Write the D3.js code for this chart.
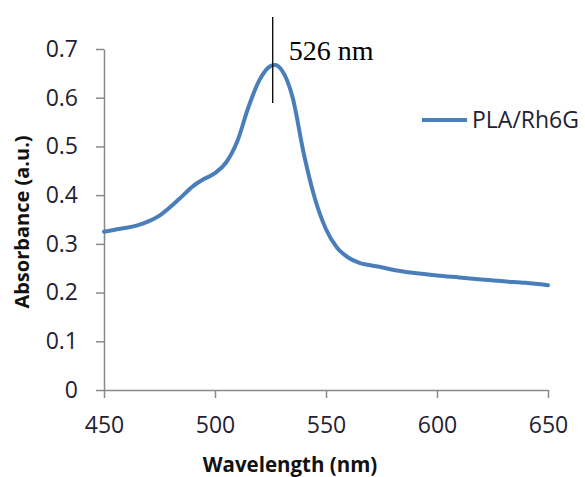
<!DOCTYPE html>
<html>
<head>
<meta charset="utf-8">
<script src="https://cdn.jsdelivr.net/npm/d3@7"></script>
<style>
  body { margin: 0; background: #fff; }
  svg { display: block; }
</style>
</head>
<body>
<svg width="585" height="477"></svg>
<script>
// wavelength (nm) and absorbance
var wavelengths = [450, 455, 460, 465, 470, 475, 480, 485, 490, 495, 500, 505, 510, 515, 520, 525, 527, 530, 535, 540, 545, 550, 555, 560, 565, 570, 575, 580, 590, 600, 610, 620, 630, 640, 650];
var absorbance  = [0.325, 0.329, 0.333, 0.338, 0.346, 0.358, 0.376, 0.397, 0.418, 0.433, 0.445, 0.467, 0.510, 0.580, 0.636, 0.665, 0.667, 0.657, 0.600, 0.485, 0.393, 0.330, 0.292, 0.272, 0.261, 0.256, 0.252, 0.247, 0.240, 0.235, 0.231, 0.227, 0.223, 0.220, 0.215];
var xTicks = [450, 500, 550, 600, 650];
var yTicks = [0, 0.1, 0.2, 0.3, 0.4, 0.5, 0.6, 0.7];
var seriesName = "PLA/Rh6G";
var peakWavelength = 526;
var peakLabel = "526 nm";

var svg = d3.select("svg"),
    margin = {top: 49, right: 37, bottom: 87, left: 104},
    width = +svg.attr("width") - margin.left - margin.right,
    height = +svg.attr("height") - margin.top - margin.bottom,
    g = svg.append("g").attr("transform", "translate(" + margin.left + "," + margin.top + ")");

var font = "'Open Sans', sans-serif",
    textColor = "#1f2233",
    axisColor = "#898989";

var x = d3.scaleLinear().domain([450, 650]).range([0, width]);
var y = d3.scaleLinear().domain([0, 0.7]).range([height, 0]);

var data = wavelengths.map(function(w, i) { return {w: w, a: absorbance[i]}; });

var line = d3.line()
    .x(function(d) { return x(d.w); })
    .y(function(d) { return y(d.a); })
    .curve(d3.curveMonotoneX);

// axes
var xAxis = g.append("g")
    .attr("transform", "translate(0," + height + ")")
    .call(d3.axisBottom(x).tickValues(xTicks).tickFormat(d3.format("d")).tickSizeInner(8).tickSizeOuter(0).tickPadding(19));

var yAxis = g.append("g")
    .call(d3.axisLeft(y).tickValues(yTicks).tickFormat(function(d) { return d === 0 ? "0" : d3.format(".1f")(d); }).tickSizeInner(8).tickSizeOuter(0).tickPadding(18));

[xAxis, yAxis].forEach(function(ax) {
  ax.select(".domain").attr("stroke", axisColor).attr("stroke-width", 1.5);
  ax.selectAll(".tick line").attr("stroke", axisColor).attr("stroke-width", 1.5);
  ax.selectAll(".tick text")
      .attr("fill", textColor)
      .style("font-family", font)
      .style("font-size", "23px");
});

// spectrum
g.append("path")
    .datum(data)
    .attr("fill", "none")
    .attr("stroke", "#4a7ebb")
    .attr("stroke-width", 4)
    .attr("stroke-linecap", "round")
    .attr("d", line);

// peak marker
g.append("line")
    .attr("x1", x(peakWavelength)).attr("x2", x(peakWavelength))
    .attr("y1", -32).attr("y2", 54)
    .attr("stroke", "#000")
    .attr("stroke-width", 1.3);

g.append("text")
    .attr("x", x(peakWavelength) + 16)
    .attr("y", 11)
    .attr("fill", "#000")
    .style("font-family", "'Liberation Serif', 'Times New Roman', serif")
    .style("font-size", "28px")
    .text(peakLabel);

// legend
var legend = svg.append("g").attr("transform", "translate(422,120)");
legend.append("line")
    .attr("x1", 0).attr("x2", 45)
    .attr("stroke", "#4a7ebb")
    .attr("stroke-width", 4);
legend.append("text")
    .attr("x", 50)
    .attr("dy", "0.35em")
    .attr("fill", textColor)
    .style("font-family", font)
    .style("font-size", "23px")
    .text(seriesName);

// axis titles
svg.append("text")
    .attr("x", 290)
    .attr("y", 472)
    .attr("text-anchor", "middle")
    .attr("fill", "#111")
    .style("font-family", font)
    .style("font-weight", "bold")
    .style("font-size", "20.5px")
    .text("Wavelength (nm)");

svg.append("text")
    .attr("transform", "translate(29,222) rotate(-90)")
    .attr("text-anchor", "middle")
    .attr("fill", "#111")
    .style("font-family", font)
    .style("font-weight", "bold")
    .style("font-size", "20px")
    .text("Absorbance (a.u.)");
</script>
</body>
</html>
